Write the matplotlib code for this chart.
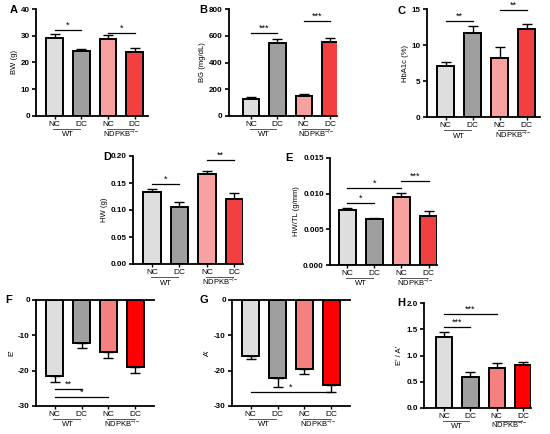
import matplotlib
matplotlib.use("Agg")
import matplotlib.pyplot as plt

plt.rcParams["font.family"] = ["Liberation Sans", "DejaVu Sans"]
plt.rcParams["axes.unicode_minus"] = False
plt.rcParams["mathtext.fontset"] = "custom"
plt.rcParams["mathtext.rm"] = "Liberation Sans"

W, H = 550, 434

groups = ["NC", "DC", "NC", "DC"]

bw_mean = [29.0, 24.3, 28.7, 24.0]
bw_sem = [1.6, 0.7, 1.6, 1.3]
bg_mean = [127, 548, 152, 556]
bg_sem = [17, 28, 12, 25]
hba1c_mean = [7.1, 11.7, 8.2, 12.2]
hba1c_sem = [0.6, 0.95, 1.55, 0.75]
hw_mean = [0.134, 0.105, 0.166, 0.120]
hw_sem = [0.005, 0.009, 0.006, 0.011]
hwtl_mean = [0.0077, 0.0064, 0.0095, 0.0069]
hwtl_sem = [0.0003, 0.00023, 0.00056, 0.0007]
e_mean = [-21.5, -12.3, -14.6, -18.9]
e_sem = [1.8, 1.4, 1.9, 1.8]
a_mean = [-15.8, -22.2, -19.4, -24.1]
a_sem = [0.8, 2.3, 1.6, 2.0]
ea_mean = [1.36, 0.60, 0.77, 0.81]
ea_sem = [0.08, 0.09, 0.09, 0.07]

# significance brackets: (from bar, to bar, height, stars)
bw_sig = [(0, 1, 32.1, "*"), (2, 3, 31.2, "*")]
bg_sig = [(0, 1, 620, "***"), (2, 3, 712, "***")]
hba1c_sig = [(0, 1, 13.4, "**"), (2, 3, 14.9, "**")]
hw_sig = [(0, 1, 0.149, "*"), (2, 3, 0.193, "**")]
hwtl_sig = [(0, 1, 0.0087, "*"), (0, 2, 0.0108, "*"), (2, 3, 0.0118, "***")]
e_sig = [(0, 1, -25.2, "**"), (0, 2, -27.5, "*")]
a_sig = [(0, 3, -26.0, "*")]
ea_sig = [(0, 1, 1.55, "***"), (0, 2, 1.80, "***")]

colors_top = ["#dedede", "#9f9f9f", "#f7a1a1", "#f23f3f"]
colors_bot = ["#dedede", "#9f9f9f", "#f58080", "#fe0000"]


def make_ax(fig, left, top, right, bottom):
    return fig.add_axes([left / W, 1 - bottom / H, (right - left) / W, (bottom - top) / H])


def draw_panel(ax, mean, sem, colors, ylim, yticks, ytick_fmt, ylabel, sig, xlim):
    x = range(len(mean))
    ax.bar(x, mean, width=0.62, color=colors, edgecolor="black", linewidth=1.4, zorder=2)
    neg = mean[0] < 0
    if neg:
        yerr = [sem, [0] * len(sem)]
    else:
        yerr = [[0] * len(sem), sem]
    ax.errorbar(x, mean, yerr=yerr, fmt="none", ecolor="black", elinewidth=1.0,
                capsize=3.3, capthick=1.0, zorder=1)
    ax.set_xlim(*xlim)
    ax.set_ylim(*ylim)
    ax.set_yticks(yticks)
    ax.set_yticklabels([ytick_fmt.format(v) for v in yticks], fontweight="bold", fontsize=5.8)
    ax.set_xticks(list(x))
    ax.set_xticklabels(groups, fontsize=6)
    ax.set_ylabel(ylabel, fontsize=5.5, labelpad=2)
    ax.spines["right"].set_visible(False)
    if not neg:
        ax.spines["top"].set_visible(False)
    for s in ax.spines.values():
        s.set_linewidth(1.3)
    ax.tick_params(axis="y", length=3, width=1.2, pad=1.5)
    ax.tick_params(axis="x", length=2, width=1.0, pad=1.5)

    # significance lines
    for i, j, y, txt in sig:
        ax.plot([i, j], [y, y], color="black", lw=0.9, clip_on=False, zorder=3)
        ax.annotate(txt, xy=((i + j) / 2, y), xytext=(0, 0), textcoords="offset points",
                    ha="center", va="bottom", fontsize=6.5, annotation_clip=False)

    # group labels under the ticks
    trans = ax.get_xaxis_transform()
    for x0, x1, name in [(0, 1, "WT"), (2, 3, "NDPKB$^{-/-}$")]:
        ax.plot([x0 - 0.05, x1 - 0.05], [-0.12, -0.12], transform=trans, color="#555555",
                lw=0.7, clip_on=False)
        ax.text((x0 + x1) / 2, -0.19, name, transform=trans, ha="center", va="baseline",
                fontsize=5.5)


fig = plt.figure(figsize=(W / 100, H / 100), dpi=100)

ax_a = make_ax(fig, 36, 9, 148, 116)
draw_panel(ax_a, bw_mean, bw_sem, colors_top, (0, 40), [0, 10, 20, 30, 40], "{:.0f}",
           "BW (g)", bw_sig, (-0.7, 3.5))
ax_b = make_ax(fig, 229, 9, 337, 116)
draw_panel(ax_b, bg_mean, bg_sem, colors_top, (0, 800), [0, 200, 400, 600, 800], "{:.0f}",
           "BG (mg/dL)", bg_sig, (-0.85, 3.27))
ax_c = make_ax(fig, 427, 9, 540, 117)
draw_panel(ax_c, hba1c_mean, hba1c_sem, colors_top, (0, 15), [0, 5, 10, 15], "{:.0f}",
           "HbA1c (%)", hba1c_sig, (-0.69, 3.5))
ax_d = make_ax(fig, 133, 156, 243, 264)
draw_panel(ax_d, hw_mean, hw_sem, colors_top, (0, 0.2), [0, 0.05, 0.10, 0.15, 0.20], "{:.2f}",
           "HW (g)", hw_sig, (-0.69, 3.31))
ax_e = make_ax(fig, 330, 158, 437, 265)
draw_panel(ax_e, hwtl_mean, hwtl_sem, colors_top, (0, 0.015), [0, 0.005, 0.010, 0.015], "{:.3f}",
           "HW/TL (g/mm)", hwtl_sig, (-0.63, 3.31))
ax_f = make_ax(fig, 36, 300, 154, 406)
draw_panel(ax_f, e_mean, e_sem, colors_bot, (-30, 0), [0, -10, -20, -30], "{:.0f}",
           "E'", e_sig, (-0.69, 3.69))
ax_g = make_ax(fig, 232, 300, 350, 406)
draw_panel(ax_g, a_mean, a_sem, colors_bot, (-30, 0), [0, -10, -20, -30], "{:.0f}",
           "A'", a_sig, (-0.69, 3.69))
ax_h = make_ax(fig, 424, 303, 531, 408)
draw_panel(ax_h, ea_mean, ea_sem, colors_bot, (0, 2.0), [0, 0.5, 1.0, 1.5, 2.0], "{:.1f}",
           "E' / A'", ea_sig, (-0.76, 3.3))

# panel letters
for letter, px, py in [("A", 10, 10), ("B", 199, 10), ("C", 398, 11), ("D", 103, 157),
                       ("E", 285, 158), ("F", 5, 300), ("G", 200, 300), ("H", 397, 303)]:
    fig.text(px / W, 1 - py / H, letter, fontsize=8, fontweight="bold", ha="left", va="center")

fig.savefig("out.png", dpi=100)
